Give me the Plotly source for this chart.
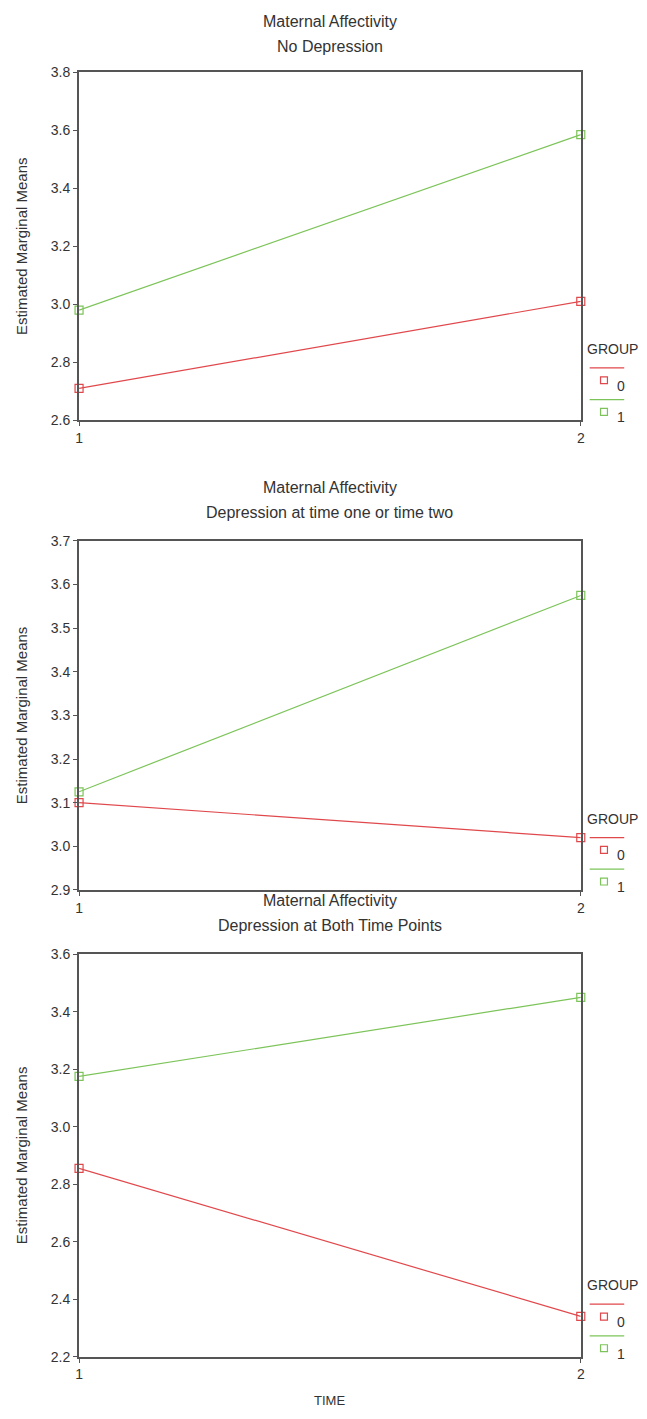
import plotly.graph_objects as go

W, H = 647, 1419

time_points = [1, 2]
groups = ["0", "1"]
group_colors = ["#e0484c", "#7cc459"]

title_line1 = "Maternal Affectivity"
title_line2 = ["No Depression", "Depression at time one or time two", "Depression at Both Time Points"]

p1_group0 = [2.71, 3.01]
p1_group1 = [2.98, 3.585]
p2_group0 = [3.10, 3.02]
p2_group1 = [3.125, 3.575]
p3_group0 = [2.855, 2.34]
p3_group1 = [3.175, 3.45]
panel_values = [[p1_group0, p1_group1], [p2_group0, p2_group1], [p3_group0, p3_group1]]

y_ranges = [[2.6, 3.8], [2.9, 3.7], [2.2, 3.6]]
y_dticks = [0.2, 0.1, 0.2]

panel_px = [(65, 417), (539, 892), (957, 1364)]
x_left_px, x_right_px = 76, 584

font_family = "Liberation Sans, Arial, sans-serif"
txt = "#333333"
axcol = "#555555"

fig = go.Figure()
annotations = []
shapes = []

def py(p):
    return 1 - p / H

def px(p):
    return p / W

for i in range(3):
    n = i + 1
    xa = "x" if n == 1 else f"x{n}"
    ya = "y" if n == 1 else f"y{n}"
    for g in range(2):
        fig.add_trace(go.Scatter(
            x=time_points, y=panel_values[i][g], mode="lines+markers",
            line=dict(color=group_colors[g], width=1.2),
            marker=dict(symbol="square-open", size=8, color=group_colors[g], line=dict(width=1.2)),
            cliponaxis=False, showlegend=False, xaxis=xa, yaxis=ya, name=groups[g],
        ))
    top, bot = panel_px[i]
    xkey = "xaxis" if n == 1 else f"xaxis{n}"
    ykey = "yaxis" if n == 1 else f"yaxis{n}"
    fig.update_layout({
        xkey: dict(domain=[px(x_left_px), px(x_right_px)], anchor=ya, range=[1, 2],
                   tickvals=time_points, ticktext=[str(t) for t in time_points],
                   showline=True, linecolor=axcol, linewidth=2, mirror=True,
                   ticks="outside", ticklen=4, tickcolor=axcol, showgrid=False, zeroline=False,
                   tickfont=dict(family=font_family, size=14, color=txt)),
        ykey: dict(domain=[py(bot), py(top)], anchor=xa, range=y_ranges[i],
                   dtick=y_dticks[i], tick0=y_ranges[i][0], tickformat=".1f",
                   showline=True, linecolor=axcol, linewidth=2, mirror=True,
                   ticks="outside", ticklen=4, tickcolor=axcol, showgrid=False, zeroline=False,
                   tickfont=dict(family=font_family, size=14, color=txt)),
    })
    cx = px((x_left_px + x_right_px) / 2)
    off = 51 if i == 0 else 54
    annotations.append(dict(text=title_line1, x=cx, y=py(top - off), xref="paper", yref="paper",
                            xanchor="center", yanchor="middle", showarrow=False,
                            font=dict(family=font_family, size=16, color=txt)))
    annotations.append(dict(text=title_line2[i], x=cx, y=py(top - off + 25), xref="paper", yref="paper",
                            xanchor="center", yanchor="middle", showarrow=False,
                            font=dict(family=font_family, size=16, color=txt)))
    annotations.append(dict(text="Estimated Marginal Means", x=px(18), y=py((top + bot) / 2),
                            xref="paper", yref="paper", xanchor="center", yanchor="middle",
                            textangle=-90, showarrow=False,
                            font=dict(family=font_family, size=15, color=txt)))
    # legend
    annotations.append(dict(text="GROUP", x=px(588), y=py(bot - 72), xref="paper", yref="paper",
                            xanchor="left", yanchor="middle", showarrow=False,
                            font=dict(family=font_family, size=14, color=txt)))
    for g in range(2):
        ly = bot - 53 + g * 32
        shapes.append(dict(type="line", xref="paper", yref="paper",
                           x0=px(593), x1=px(628), y0=py(ly), y1=py(ly),
                           line=dict(color=group_colors[g], width=1.2)))
        shapes.append(dict(type="rect", xref="paper", yref="paper",
                           x0=px(604), x1=px(611), y0=py(ly + 16), y1=py(ly + 9),
                           line=dict(color=group_colors[g], width=1.2)))
        annotations.append(dict(text=groups[g], x=px(619), y=py(ly + 18), xref="paper", yref="paper",
                                xanchor="left", yanchor="middle", showarrow=False,
                                font=dict(family=font_family, size=14, color=txt)))

annotations.append(dict(text="TIME", x=px((x_left_px + x_right_px) / 2), y=py(1408), xref="paper", yref="paper",
                        xanchor="center", yanchor="middle", showarrow=False,
                        font=dict(family=font_family, size=13, color=txt)))

fig.update_layout(width=W, height=H, margin=dict(l=0, r=0, t=0, b=0),
                  paper_bgcolor="white", plot_bgcolor="white",
                  annotations=annotations, shapes=shapes, showlegend=False)

fig.write_html("out.html", config={"displayModeBar": False},
               post_script="document.body.style.margin='0';document.body.style.overflow='hidden';")
